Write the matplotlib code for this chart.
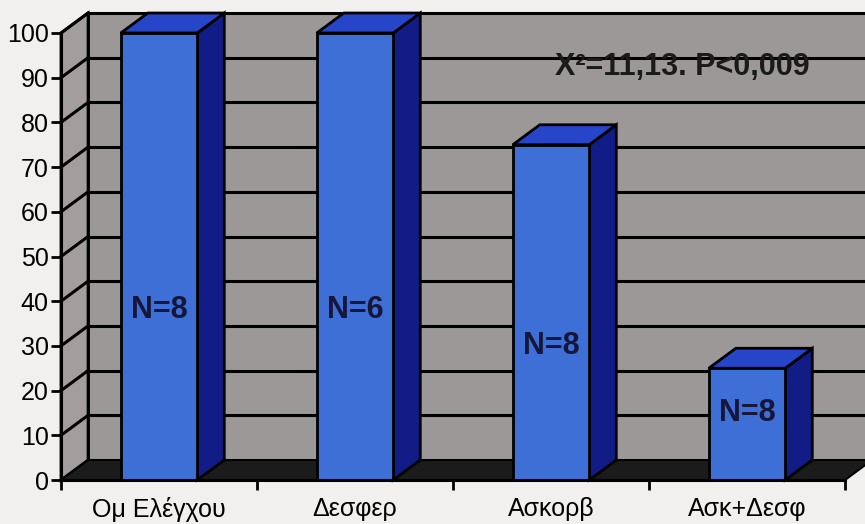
"""
Excel-style pseudo-3D bar chart: percent of group per treatment.
"""

import matplotlib
matplotlib.use("Agg")
import matplotlib.pyplot as plt
from matplotlib.patches import Polygon

plt.rcParams["font.family"] = ["Liberation Sans", "DejaVu Sans"]

# Data
categories = ["Ομ Ελέγχου", "Δεσφερ", "Ασκορβ", "Ασκ+Δεσφ"]
values = [100, 100, 75, 25]
n_labels = ["N=8", "N=6", "N=8", "N=8"]
n_label_y = [38, 38, 30, 15]
stat_text = "X²=11,13. P<0,009"

# Look
FIG_BG = "#f1f0ee"
WALL = "#9d9898"
SIDE_WALL = "#a39e9d"
FLOOR = "#1b1b1b"
FRONT = "#3d6fd6"
TOP = "#2745c9"
SIDE = "#111c86"
DX, DY = 0.138, 4.47      # depth offset (category units, value units)
BAR_W = 0.39

fig = plt.figure(figsize=(8.65, 5.24), dpi=100, facecolor=FIG_BG)
ax = fig.add_axes([61 / 865, 44 / 524, 804 / 865, 480 / 524])
ax.set_xlim(0, 804 / 196)
ax.set_ylim(0, 480 / 4.47)
ax.set_facecolor("none")

ncat = len(categories)

# back wall
ax.add_patch(Polygon([(DX, DY), (ncat + DX, DY), (ncat + DX, 100 + DY), (DX, 100 + DY)],
                     closed=True, facecolor=WALL, edgecolor="black", lw=2, clip_on=False, zorder=1))
# left wall
ax.add_patch(Polygon([(0, 0), (DX, DY), (DX, 100 + DY), (0, 100)],
                     closed=True, facecolor=SIDE_WALL, edgecolor="black", lw=2, clip_on=False, zorder=1))

# gridlines on walls
for v in range(10, 101, 10):
    ax.plot([DX, ncat + DX], [v + DY, v + DY], color="black", lw=2.2, zorder=2, clip_on=False)
    ax.plot([0, DX], [v, v + DY], color="black", lw=2.2, zorder=2, clip_on=False)

# floor
ax.add_patch(Polygon([(0, 0), (ncat, 0), (ncat + DX, DY), (DX, DY)],
                     closed=True, facecolor=FLOOR, edgecolor="black", lw=1.5, clip_on=False, zorder=3))

# bars
for i, (v, lab, ly) in enumerate(zip(values, n_labels, n_label_y)):
    x0 = i + 0.5 - BAR_W / 2
    x1 = x0 + BAR_W
    side = Polygon([(x1, 0), (x1 + DX, DY), (x1 + DX, v + DY), (x1, v)],
                   closed=True, facecolor=SIDE, edgecolor="black", lw=2, zorder=4, clip_on=False)
    top = Polygon([(x0, v), (x1, v), (x1 + DX, v + DY), (x0 + DX, v + DY)],
                  closed=True, facecolor=TOP, edgecolor="black", lw=2, zorder=4, clip_on=False)
    ax.add_patch(side)
    ax.add_patch(top)
    ax.bar(i + 0.5, v, width=BAR_W, color=FRONT, edgecolor="black", lw=2, zorder=5, clip_on=False)
    ax.text(i + 0.5, ly, lab, ha="center", va="center", fontsize=22,
            fontweight="bold", color="#15163a", zorder=6)

ax.text(2.52, 92.4, stat_text, ha="left", va="center", fontsize=22,
        fontweight="bold", color="#1a1a1a", zorder=6)

# axes
for s in ("top", "right"):
    ax.spines[s].set_visible(False)
ax.spines["left"].set_bounds(0, 100)
ax.spines["bottom"].set_bounds(0, ncat)
ax.spines["left"].set_linewidth(2.2)
ax.spines["bottom"].set_linewidth(2.2)
ax.spines["left"].set_zorder(7)
ax.spines["bottom"].set_zorder(7)

ax.set_yticks(range(0, 101, 10))
ax.tick_params(axis="y", direction="out", length=7, width=2, pad=2, labelsize=18)
ax.set_xticks(range(0, ncat + 1))
ax.set_xticklabels([])
ax.set_xticks([i + 0.5 for i in range(ncat)], minor=True)
ax.set_xticklabels(categories, minor=True)
ax.tick_params(axis="x", which="major", direction="out", length=7, width=2)
ax.tick_params(axis="x", which="minor", length=0, pad=12, labelsize=18)

fig.savefig("out.png", dpi=100, facecolor=FIG_BG)
